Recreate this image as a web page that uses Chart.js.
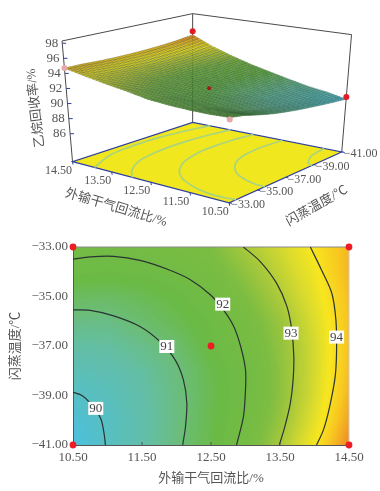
<!DOCTYPE html>
<html>
<head>
<meta charset="utf-8">
<script src="https://cdn.jsdelivr.net/npm/chart.js@4"></script>
<style>
    html, body { margin: 0; padding: 0; background: #fff; }
    canvas { position: absolute; left: 0; }
    #surfaceChart { top: 0; }
    #contourChart { top: 230px; }
</style>
</head>
<body>
<canvas id="surfaceChart" width="380" height="230"></canvas>
<canvas id="contourChart" width="380" height="261"></canvas>
<script>
// Axis labels and ticks
const xTitle = '外输干气回流比/%';
const yTitle = '闪蒸温度/℃';
const zTitle = '乙烷回收率/%';
const xTicks = [10.5, 11.5, 12.5, 13.5, 14.5];
const yTicks = [-41, -39, -37, -35, -33];
const zTicks = [86, 88, 90, 92, 94, 96, 98];

// Response values (rows follow gridY, columns follow gridX)
const gridX = [10.5, 11, 11.5, 12, 12.5, 13, 13.5, 14, 14.5];
const gridY = [-33, -34, -35, -36, -37, -38, -39, -40, -41];
const gridZ = [
    [92.10, 92.05, 92.10, 92.25, 92.50, 93.03, 93.50, 94.05, 94.70],
    [91.80, 91.75, 91.80, 92.02, 92.30, 92.75, 93.30, 93.90, 94.70],
    [91.30, 91.25, 91.40, 91.65, 92.00, 92.50, 93.10, 93.75, 94.60],
    [90.85, 90.85, 91.12, 91.45, 91.80, 92.30, 92.85, 93.60, 94.55],
    [90.50, 90.55, 90.80, 91.12, 91.70, 92.15, 92.75, 93.50, 94.55],
    [90.20, 90.30, 90.55, 90.95, 91.50, 92.00, 92.70, 93.50, 94.60],
    [89.95, 90.12, 90.45, 90.90, 91.45, 92.00, 92.70, 93.55, 94.70],
    [89.70, 90.00, 90.40, 90.90, 91.50, 92.08, 92.80, 93.70, 94.90],
    [89.50, 90.03, 90.40, 90.95, 91.55, 92.20, 93.00, 93.95, 95.20]
];

// Design points
const designX = [10.5, 14.5, 10.5, 14.5, 12.5];
const designY = [-33, -33, -41, -41, -37];
const designZ = [91.9, 94.7, 89.8, 95.7, 91.7];
const designColors3d = ['#e8a8a8', '#e8a8a8', '#e01b24', '#e01b24', '#a01818'];
const designSizes3d = [3, 3, 3, 3, 2];

// Contour lines
const contourLevels = [90, 91, 92, 93, 94];
const contour90 = [[10.5, -38.87], [10.63, -39.0], [10.75, -39.31], [10.9, -39.92], [10.95, -40.53], [10.97, -41]];
const contour91 = [[10.5, -35.54], [10.75, -35.56], [11.09, -35.78], [11.47, -36.21], [11.76, -36.82], [11.98, -37.56], [12.1, -38.37], [12.15, -39.31], [12.13, -40.26], [12.09, -41]];
const contour92 = [[10.5, -33.49], [10.75, -33.4], [11.09, -33.38], [11.47, -33.54], [11.86, -33.89], [12.2, -34.32], [12.49, -34.93], [12.68, -35.54], [12.83, -36.21], [12.93, -37.02], [13.0, -37.96], [13.0, -38.77], [12.97, -39.85], [12.87, -41]];
const contour93 = [[12.97, -33], [13.21, -33.58], [13.45, -34.46], [13.6, -35.4], [13.67, -36.35], [13.7, -37.43], [13.69, -38.37], [13.65, -39.31], [13.57, -40.26], [13.49, -41]];
const contour94 = [[13.94, -33], [14.1, -33.92], [14.25, -34.86], [14.31, -35.94], [14.32, -37.15], [14.3, -38.23], [14.22, -39.45], [14.13, -40.39], [14.03, -41]];
const contourSeries = [contour90, contour91, contour92, contour93, contour94];
const labelX = [10.83, 11.86, 12.67, 13.66, 14.32];
const labelY = [-39.52, -37.02, -35.31, -36.48, -36.64];

const FONT_FAMILY = "'Liberation Serif', 'Noto Sans CJK SC', serif";
const TEXT_COLOR = '#555';
const BLUE = '#2f3f9e';

// Colour ramp of the response
const rampStops = [
    [89.5, [76, 192, 224]],
    [90.5, [100, 190, 165]],
    [91.0, [107, 189, 120]],
    [91.6, [106, 186, 70]],
    [92.5, [124, 189, 66]],
    [93.0, [165, 200, 60]],
    [93.6, [219, 220, 46]],
    [94.0, [248, 231, 31]],
    [94.5, [248, 200, 32]],
    [95.2, [240, 140, 40]]
];

function rampColor(z) {
    if (z <= rampStops[0][0]) return rampStops[0][1];
    for (let i = 1; i < rampStops.length; i++) {
        if (z <= rampStops[i][0]) {
            let a = rampStops[i - 1], b = rampStops[i];
            let t = (z - a[0]) / (b[0] - a[0]);
            return a[1].map((c, k) => Math.round(c + (b[1][k] - c) * t));
        }
    }
    return rampStops[rampStops.length - 1][1];
}

// Value of the read grid at a fractional row / column, for drawing the smooth mesh
function gridValue(col, row) {
    let c0 = Math.min(Math.floor(col), gridX.length - 2);
    let r0 = Math.min(Math.floor(row), gridY.length - 2);
    let fc = col - c0, fr = row - r0;
    let top = gridZ[r0][c0] + (gridZ[r0][c0 + 1] - gridZ[r0][c0]) * fc;
    let bot = gridZ[r0 + 1][c0] + (gridZ[r0 + 1][c0 + 1] - gridZ[r0 + 1][c0]) * fc;
    return top + (bot - top) * fr;
}

// // // // // // //
// 3D VIEW
// // // // // // //

const Z_FLOOR = 82.3;
const Z_CEIL = 98.3;

// Box corners in view units: [x14.5 y-33, x10.5 y-33, x10.5 y-41, x14.5 y-41]
const floorBox = [[70, 163.3], [230, 206], [345, 153.3], [192.7, 122.7]];
const ceilBox = [[59.3, 38.3], [231, 62], [355, 31.7], [192.7, 10]];

function lerp2(a, b, t) {
    return [a[0] + (b[0] - a[0]) * t, a[1] + (b[1] - a[1]) * t];
}

function boxPoint(box, u, v) {
    return lerp2(lerp2(box[0], box[1], u), lerp2(box[3], box[2], u), v);
}

function project(x, y, z) {
    let u = (14.5 - x) / 4;
    let v = (y + 33) / -8;
    let t = (z - Z_FLOOR) / (Z_CEIL - Z_FLOOR);
    return lerp2(boxPoint(floorBox, u, v), boxPoint(ceilBox, u, v), t);
}

const surfacePlugin = {
    id: 'surfacePlugin',
    beforeDatasetsDraw: function(chart) {
        const ctx = chart.ctx;
        const sx = chart.scales.x, sy = chart.scales.y;
        const toPx = p => [sx.getPixelForValue(p[0]), sy.getPixelForValue(p[1])];

        function path(points) {
            ctx.beginPath();
            points.forEach((p, i) => {
                let q = toPx(p);
                if (i === 0) ctx.moveTo(q[0], q[1]); else ctx.lineTo(q[0], q[1]);
            });
        }

        ctx.save();

        // box frame
        ctx.strokeStyle = '#4a4a4a';
        ctx.lineWidth = 1;
        path([ceilBox[0], ceilBox[3], ceilBox[2]]);
        ctx.stroke();
        [0, 2, 3].forEach(i => {
            path([floorBox[i], ceilBox[i]]);
            ctx.stroke();
        });

        // floor
        path(floorBox);
        ctx.closePath();
        ctx.fillStyle = '#f1e71f';
        ctx.fill();
        ctx.strokeStyle = BLUE;
        ctx.lineWidth = 1.2;
        ctx.stroke();

        // floor ticks
        ctx.lineWidth = 1;
        xTicks.forEach(v => {
            let p = project(v, -33, Z_FLOOR);
            path([p, [p[0] + 0.5, p[1] + 3]]);
            ctx.stroke();
        });
        yTicks.forEach(v => {
            let p = project(10.5, v, Z_FLOOR);
            path([p, [p[0] + 3, p[1] + 0.5]]);
            ctx.stroke();
        });
        zTicks.forEach(v => {
            let p = project(14.5, -33, v);
            path([p, [p[0] + 4, p[1]]]);
            ctx.stroke();
        });

        // surface, painted from the back corner to the front corner
        const SUB = 6;
        const cols = (gridX.length - 1) * SUB;
        const rows = (gridY.length - 1) * SUB;
        const node = (c, r) => {
            let col = c / SUB, row = r / SUB;
            let z = gridValue(col, row);
            let x = gridX[0] + (gridX[gridX.length - 1] - gridX[0]) * c / cols;
            let y = gridY[0] + (gridY[gridY.length - 1] - gridY[0]) * r / rows;
            return { p: project(x, y, z), z: z };
        };
        ctx.lineWidth = 0.45;
        for (let r = rows - 1; r >= 0; r--) {
            for (let c = cols - 1; c >= 0; c--) {
                let n = [node(c, r), node(c + 1, r), node(c + 1, r + 1), node(c, r + 1)];
                let rgb = rampColor((n[0].z + n[1].z + n[2].z + n[3].z) / 4);
                path(n.map(m => m.p));
                ctx.closePath();
                ctx.fillStyle = 'rgb(' + rgb.map(v => Math.round(v * 0.9)).join(',') + ')';
                ctx.fill();
                ctx.strokeStyle = 'rgba(20, 55, 35, 0.45)';
                ctx.stroke();
            }
        }
        ctx.restore();
    },
    afterDatasetsDraw: function(chart) {
        const ctx = chart.ctx;
        const sx = chart.scales.x, sy = chart.scales.y;
        const toPx = p => [sx.getPixelForValue(p[0]), sy.getPixelForValue(p[1])];

        function text(str, p, align) {
            ctx.textAlign = align;
            ctx.fillText(str, p[0], p[1]);
        }

        function rotated(str, p, degrees) {
            ctx.save();
            ctx.translate(p[0], p[1]);
            ctx.rotate(degrees * Math.PI / 180);
            ctx.textAlign = 'center';
            ctx.fillText(str, 0, 0);
            ctx.restore();
        }

        ctx.save();
        ctx.fillStyle = TEXT_COLOR;
        ctx.textBaseline = 'middle';
        ctx.font = '13px ' + FONT_FAMILY;
        zTicks.forEach(v => {
            let p = toPx(project(14.5, -33, v));
            text(String(v), [p[0] - 4, p[1]], 'right');
        });
        ctx.font = '12px ' + FONT_FAMILY;
        xTicks.forEach(v => {
            let p = toPx(project(v, -33, Z_FLOOR));
            text(v.toFixed(2), [p[0] - 14, p[1] + 9], 'center');
        });
        yTicks.forEach(v => {
            let p = toPx(project(10.5, v, Z_FLOOR));
            text(v.toFixed(2).replace('-', '\u2212'), [p[0] + 19, p[1] + 2], 'center');
        });
        ctx.font = '13px ' + FONT_FAMILY;
        rotated(xTitle, [116, 208], 16.4);
        rotated(yTitle, [317, 206], -29.6);
        rotated(zTitle, [36, 108], -96.8);
        ctx.restore();
    }
};

new Chart(document.getElementById('surfaceChart').getContext('2d'), {
    type: 'scatter',
    data: {
        datasets: [
            ...contourSeries.map((line, i) => ({
                label: 'floor ' + contourLevels[i],
                data: line.map(pt => {
                    let p = project(pt[0], pt[1], Z_FLOOR);
                    return { x: p[0], y: p[1] };
                }),
                showLine: true,
                tension: 0.3,
                borderColor: '#a9d47f',
                borderWidth: 1.7,
                pointRadius: 0,
                clip: false
            })),
            {
                label: 'design points',
                data: designX.map((x, i) => {
                    let p = project(x, designY[i], designZ[i]);
                    return { x: p[0], y: p[1] };
                }),
                pointBackgroundColor: designColors3d,
                pointBorderWidth: 0,
                pointRadius: designSizes3d,
                clip: false
            }
        ]
    },
    options: {
        responsive: false,
        animation: false,
        layout: { padding: 0 },
        plugins: { legend: { display: false }, tooltip: { enabled: false } },
        scales: {
            x: { type: 'linear', display: false, min: 0, max: 380 },
            y: { type: 'linear', display: false, min: 0, max: 230, reverse: true }
        }
    },
    plugins: [surfacePlugin]
});

// // // // // // //
// CONTOUR VIEW
// // // // // // //

const contourPlugin = {
    id: 'contourPlugin',
    beforeDraw: function(chart) {
        const ctx = chart.ctx;
        const area = chart.chartArea;
        const W = 128, H = 128;

        // paint the response into a small image, then stretch it over the plot area
        const off = document.createElement('canvas');
        off.width = W;
        off.height = H;
        const offCtx = off.getContext('2d');
        const img = offCtx.createImageData(W, H);
        for (let r = 0; r < H; r++) {
            for (let c = 0; c < W; c++) {
                let z = gridValue((c / (W - 1)) * (gridX.length - 1), (r / (H - 1)) * (gridY.length - 1));
                let rgb = rampColor(z);
                let k = (r * W + c) * 4;
                img.data[k] = rgb[0];
                img.data[k + 1] = rgb[1];
                img.data[k + 2] = rgb[2];
                img.data[k + 3] = 255;
            }
        }
        offCtx.putImageData(img, 0, 0);
        ctx.save();
        ctx.imageSmoothingEnabled = true;
        ctx.drawImage(off, 0, 0, W, H, area.left, area.top, area.right - area.left, area.bottom - area.top);

        // top and right frame
        ctx.strokeStyle = '#8a8a8a';
        ctx.lineWidth = 1;
        ctx.beginPath();
        ctx.moveTo(area.left, area.top);
        ctx.lineTo(area.right, area.top);
        ctx.stroke();
        ctx.strokeStyle = '#c8c8c8';
        ctx.beginPath();
        ctx.moveTo(area.right, area.top);
        ctx.lineTo(area.right, area.bottom);
        ctx.stroke();
        ctx.restore();
    },
    afterDatasetsDraw: function(chart) {
        const ctx = chart.ctx;
        const sx = chart.scales.x, sy = chart.scales.y;
        ctx.save();

        // short inward ticks
        ctx.strokeStyle = '#555';
        ctx.lineWidth = 1;
        xTicks.slice(1, -1).forEach(v => {
            let px = sx.getPixelForValue(v);
            ctx.beginPath();
            ctx.moveTo(px, chart.chartArea.bottom);
            ctx.lineTo(px, chart.chartArea.bottom - 3);
            ctx.stroke();
        });

        // contour level labels
        ctx.font = '13px ' + FONT_FAMILY;
        ctx.textAlign = 'center';
        ctx.textBaseline = 'middle';
        contourLevels.forEach((level, i) => {
            let px = sx.getPixelForValue(labelX[i]);
            let py = sy.getPixelForValue(labelY[i]);
            ctx.fillStyle = '#fff';
            ctx.fillRect(px - 7.5, py - 6.5, 15, 13);
            ctx.fillStyle = '#444';
            ctx.fillText(String(level), px, py + 0.5);
        });
        ctx.restore();
    }
};

new Chart(document.getElementById('contourChart').getContext('2d'), {
    type: 'scatter',
    data: {
        datasets: [
            ...contourSeries.map((line, i) => ({
                label: String(contourLevels[i]),
                data: line.map(pt => ({ x: pt[0], y: pt[1] })),
                showLine: true,
                tension: 0.3,
                borderColor: '#2a3434',
                borderWidth: 1.2,
                pointRadius: 0
            })),
            {
                label: 'design points',
                data: designX.map((x, i) => ({ x: x, y: designY[i] })),
                pointBackgroundColor: '#ee1c25',
                pointBorderWidth: 0,
                pointRadius: 3.4,
                clip: false
            }
        ]
    },
    options: {
        responsive: false,
        animation: false,
        layout: { padding: { top: 17, right: 31, left: 0, bottom: 0 } },
        plugins: { legend: { display: false }, tooltip: { enabled: false } },
        scales: {
            x: {
                type: 'linear',
                min: 10.5,
                max: 14.5,
                grid: { display: false, drawTicks: false },
                border: { display: true, color: '#555', width: 1 },
                afterBuildTicks: scale => { scale.ticks = xTicks.map(v => ({ value: v })); },
                afterFit: scale => { scale.height = 46; },
                ticks: {
                    color: TEXT_COLOR,
                    padding: 5,
                    maxRotation: 0,
                    autoSkip: false,
                    font: { family: FONT_FAMILY, size: 13 },
                    callback: v => Number(v).toFixed(2)
                },
                title: {
                    display: true,
                    text: xTitle,
                    color: TEXT_COLOR,
                    padding: { top: 0, bottom: 5 },
                    font: { family: FONT_FAMILY, size: 13 }
                }
            },
            y: {
                type: 'linear',
                min: -41,
                max: -33,
                grid: { display: false, drawTicks: false },
                border: { display: true, color: '#555', width: 1 },
                afterBuildTicks: scale => { scale.ticks = yTicks.map(v => ({ value: v })); },
                afterFit: scale => { scale.width = 73; },
                ticks: {
                    color: TEXT_COLOR,
                    padding: 5,
                    autoSkip: false,
                    font: { family: FONT_FAMILY, size: 13 },
                    callback: v => Number(v).toFixed(2).replace('-', '\u2212')
                },
                title: {
                    display: true,
                    text: yTitle,
                    color: TEXT_COLOR,
                    padding: { top: 8, bottom: 0 },
                    font: { family: FONT_FAMILY, size: 13 }
                }
            }
        }
    },
    plugins: [contourPlugin]
});
</script>
</body>
</html>
